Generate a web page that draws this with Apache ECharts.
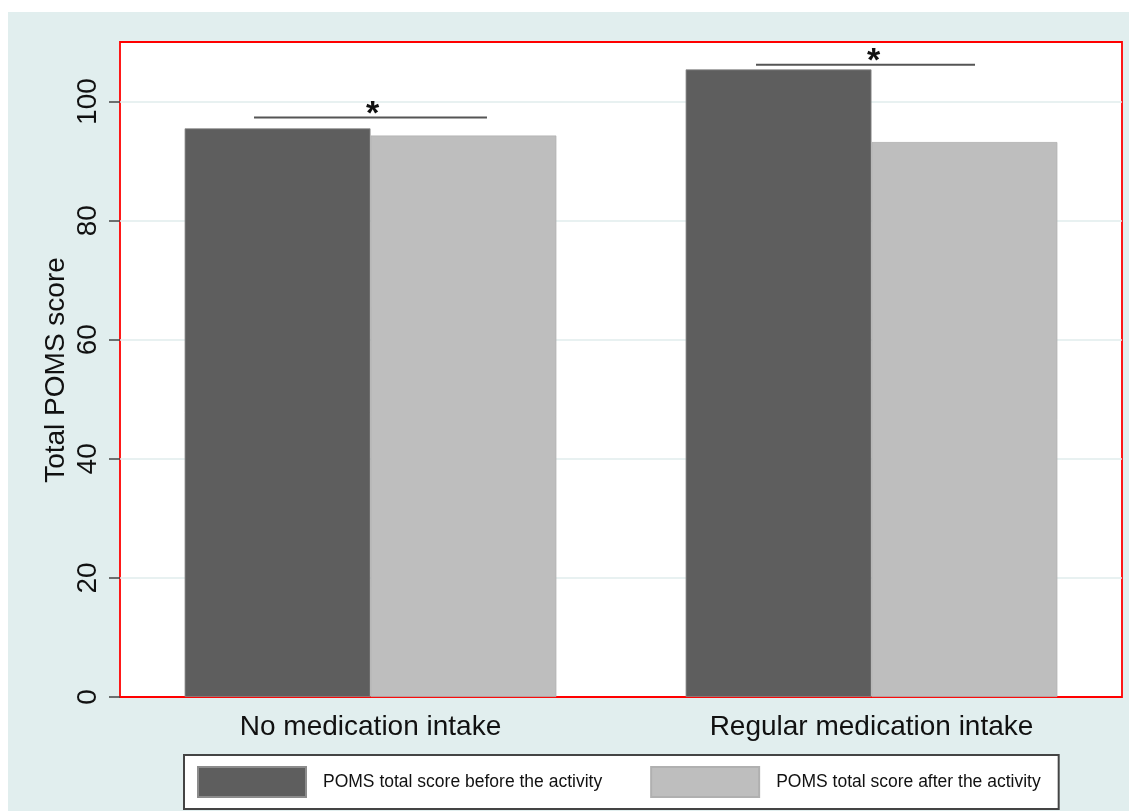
<!DOCTYPE html>
<html>
<head>
<meta charset="utf-8">
<script src="https://cdn.jsdelivr.net/npm/echarts@6/dist/echarts.min.js"></script>
<style>
html,body{margin:0;padding:0;background:#fff;}
#chart{width:1129px;height:811px;}
</style>
</head>
<body>
<div id="chart"></div>
<script>
const categories = ['No medication intake', 'Regular medication intake'];
const seriesNames = ['POMS total score before the activity', 'POMS total score after the activity'];
const beforeValues = [95.5, 105.4];
const afterValues = [94.3, 93.2];
const yTicks = [0, 20, 40, 60, 80, 100];
const yTitle = 'Total POMS score';
// significance bars: category index, height, left/right extent (fraction of category band)
const sigCategory = [0, 1];
const sigHeight = [97.3, 106.2];
const sigLeft = [-0.2325, -0.2305];
const sigRight = [0.2325, 0.2066];

const FONT = "'Liberation Sans', Arial, sans-serif";
const chart = echarts.init(document.getElementById('chart'), null, {renderer: 'canvas'});

const sigData = sigCategory.map((c, i) => [c, sigHeight[i], sigLeft[i], sigRight[i]]);

chart.setOption({
  animation: false,
  backgroundColor: 'transparent',
  graphic: [{
    type: 'rect', z: -10, silent: true,
    shape: {x: 8, y: 12, width: 1121, height: 799},
    style: {fill: '#e1eeee'}
  }, {
    type: 'text', z: 10, silent: true,
    x: 56, y: 370, rotation: Math.PI / 2,
    style: {text: yTitle, font: '28px ' + FONT, fill: '#111', textAlign: 'center', textVerticalAlign: 'middle'}
  }],
  grid: {
    left: 120, top: 42, right: 7, bottom: 114,
    show: true, backgroundColor: '#ffffff', borderColor: '#ff0000', borderWidth: 1.8
  },
  legend: {
    left: 184, top: 755,
    orient: 'horizontal',
    icon: 'rect',
    itemWidth: 108, itemHeight: 30, itemGap: 48,
    padding: [11, 18, 11, 13],
    backgroundColor: '#ffffff', borderColor: '#444444', borderWidth: 2,
    selectedMode: false,
    textStyle: {fontFamily: FONT, fontSize: 17.5, color: '#111', padding: [0, 0, 0, 12]},
    data: seriesNames
  },
  xAxis: {
    type: 'category',
    data: categories,
    axisLine: {show: false},
    axisTick: {show: false},
    axisLabel: {fontFamily: FONT, fontSize: 28, color: '#111', margin: 16}
  },
  yAxis: {
    type: 'value',
    min: 0, max: 110, interval: 20,
    axisLine: {show: false},
    axisTick: {show: true, length: 11, customValues: yTicks, lineStyle: {color: '#444', width: 1.5}},
    axisLabel: {rotate: 90, fontFamily: FONT, fontSize: 28, color: '#111', margin: 18, customValues: yTicks},
    splitLine: {show: true, showMinLine: false, showMaxLine: true, lineStyle: {color: '#e0eded', width: 1.5}}
  },
  series: [
    {
      name: seriesNames[0], type: 'bar', data: beforeValues,
      barGap: '0%', barCategoryGap: '25.8%',
      itemStyle: {color: '#5e5e5e', borderColor: '#8c8c8c', borderWidth: 0.8}
    },
    {
      name: seriesNames[1], type: 'bar', data: afterValues,
      barGap: '0%', barCategoryGap: '25.8%',
      itemStyle: {color: '#bebebe', borderColor: '#b0b0b0', borderWidth: 0.8}
    },
    {
      type: 'custom',
      name: 'significance',
      data: sigData,
      z: 5,
      renderItem: function (params, api) {
        const c = api.value(0), y = api.value(1), l = api.value(2), r = api.value(3);
        const p = api.coord([c, y]);
        const bw = api.size([1, 0])[0];
        return {
          type: 'group',
          children: [
            {type: 'line', shape: {x1: p[0] + l * bw, y1: p[1], x2: p[0] + r * bw, y2: p[1]},
             style: {stroke: '#555', lineWidth: 2}},
            {type: 'text', x: p[0] + 2, y: p[1] - 3,
             style: {text: '*', font: 'bold 34px ' + FONT, textAlign: 'center', textVerticalAlign: 'middle', fill: '#111'}}
          ]
        };
      }
    }
  ]
});
</script>
</body>
</html>
